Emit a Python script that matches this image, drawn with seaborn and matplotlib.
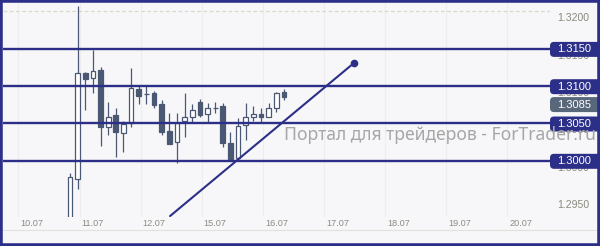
import numpy as np
import pandas as pd
import matplotlib
matplotlib.use("Agg")
import matplotlib.pyplot as plt
import matplotlib.transforms as mtransforms
from matplotlib.patches import Rectangle, FancyBboxPatch
from matplotlib.lines import Line2D
import seaborn as sns

# ---------------- data ----------------
opens  = [1.2910, 1.29752, 1.31173, 1.31106, 1.31213, 1.30449, 1.30610, 1.30369, 1.30503, 1.30958,
          1.30891, 1.30905, 1.30757, 1.30395, 1.30248, 1.30529, 1.30583, 1.30784, 1.30623, 1.30710,
          1.30731, 1.30235, 1.30034, 1.30476, 1.30583, 1.30623, 1.30583, 1.30704, 1.30918]
highs  = [1.29832, 1.32071, 1.31180, 1.31481, 1.31253, 1.30784, 1.30704, 1.30529, 1.31240, 1.30999,
          1.30999, 1.30932, 1.30811, 1.30637, 1.30637, 1.30905, 1.30757, 1.30824, 1.30771, 1.30784,
          1.30771, 1.30382, 1.30570, 1.30771, 1.30731, 1.30704, 1.30771, 1.30918, 1.30958]
lows   = [1.2905, 1.29618, 1.30677, 1.30905, 1.30194, 1.30342, 1.30047, 1.30114, 1.30449, 1.30757,
          1.30757, 1.30704, 1.30342, 1.30221, 1.29966, 1.30315, 1.30516, 1.30583, 1.30503, 1.30637,
          1.30181, 1.30007, 1.30007, 1.30275, 1.30529, 1.30516, 1.30583, 1.30650, 1.30811]
closes = [1.29779, 1.31173, 1.31093, 1.31200, 1.30449, 1.30583, 1.30382, 1.30489, 1.30972, 1.30865,
          1.30885, 1.30744, 1.30382, 1.30221, 1.30503, 1.30583, 1.30677, 1.30610, 1.30704, 1.30700,
          1.30235, 1.30020, 1.30462, 1.30583, 1.30623, 1.30583, 1.30704, 1.30905, 1.30851]

levels = [1.3150, 1.3100, 1.3050, 1.3000]
level_labels = ["1.3150", "1.3100", "1.3050", "1.3000"]
price_ticks = [1.3200, 1.3150, 1.3100, 1.3050, 1.3000, 1.2950]
price_tick_labels = ["1.3200", "1.3150", "1.3100", "1.3050", "1.3000", "1.2950"]
current_price = 1.3085
current_label = "1.3085"

day_labels = ["10.07", "11.07", "12.07", "15.07", "16.07", "17.07", "18.07", "19.07", "20.07"]
day_start = [-6.75, 1.25, 9.25, 17.25, 25.25, 33.25, 41.25, 49.25, 57.25]

trend_x = [13.1, 37.17]
trend_y = [1.29256, 1.31307]

watermark = "Портал для трейдеров - ForTrader.ru"

# ---------------- style ----------------
sns.set_theme(style="white")
plt.rcParams["font.family"] = ["Liberation Sans", "DejaVu Sans"]

NAVY = "#2b2f88"
CANDLE = "#4a5874"
BG = "#f7f7f9"

W, H = 600, 246
fig = plt.figure(figsize=(6.0, 2.46), dpi=100, facecolor=BG)
ax = fig.add_axes([3 / W, (H - 217) / H, (550 - 3) / W, (217 - 3) / H])
ax.set_facecolor(BG)
for s in ax.spines.values():
    s.set_visible(False)
ax.set_xlim(-8.77, 62.83)
ax.set_ylim(1.29243, 1.32111)
ax.set_xticks([])
ax.set_yticks([])

# vertical day grid
ax.vlines(day_start, 1.2924, 1.3212, colors="#ededed", linewidth=0.8, zorder=0)
# dashed top grid at 1.3200
ax.axhline(1.3200, color="#d3dccb", linewidth=0.9, linestyle=(0, (3, 2)), zorder=0.5)

# candles
df = pd.DataFrame({"i": np.arange(len(opens)), "open": opens, "high": highs, "low": lows, "close": closes})
bull = df["close"] >= df["open"]
ax.vlines(df["i"], df["low"], df["high"], colors=CANDLE, linewidth=0.9, zorder=3)
body_lo = df[["open", "close"]].min(axis=1)
body_hi = df[["open", "close"]].max(axis=1)
height = (body_hi - body_lo).clip(lower=0.00008)
ax.bar(df["i"][bull], height[bull], bottom=body_lo[bull], width=0.62,
       facecolor="white", edgecolor=CANDLE, linewidth=0.9, zorder=4)
ax.bar(df["i"][~bull], height[~bull], bottom=body_lo[~bull], width=0.62,
       facecolor=CANDLE, edgecolor=CANDLE, linewidth=0.9, zorder=4)

# levels
for lv in levels:
    ax.axhline(lv, color=NAVY, linewidth=1.7, zorder=5)

# trend line
sns.lineplot(x=trend_x, y=trend_y, ax=ax, color=NAVY, linewidth=1.5, zorder=6)
ax.plot([trend_x[1]], [trend_y[1]], "o", color=NAVY, markersize=4.5, zorder=7)

# x labels
xoff = mtransforms.ScaledTranslation(2 / 100, -6.5 / 100, fig.dpi_scale_trans)
xtr = mtransforms.blended_transform_factory(ax.transData, ax.transAxes) + xoff
for d, lab in zip(day_start, day_labels):
    ax.text(d, 0, lab, transform=xtr, ha="left", va="center", fontsize=6.6,
            color="#8c8c84", clip_on=False)

# right price scale labels
ytr = mtransforms.blended_transform_factory(fig.transFigure, ax.transData) + \
    mtransforms.ScaledTranslation(0, -7 / 100, fig.dpi_scale_trans)
for v, lab in zip(price_ticks, price_tick_labels):
    ax.text(573 / W, v, lab, transform=ytr, ha="center", va="center", fontsize=7.6,
            color="#8a8a7e", clip_on=False, zorder=8)

def price_box(value, text, color, dy_px=0.0):
    fig.canvas.draw()
    yd = ax.transData.transform((0, value))[1] / fig.dpi + dy_px / 100
    box = FancyBboxPatch((550 / 100, yd - 0.075), 0.52, 0.15,
                         boxstyle="round,pad=0,rounding_size=0.04",
                         transform=fig.dpi_scale_trans, facecolor=color,
                         edgecolor="none", zorder=9, clip_on=False)
    fig.add_artist(box)
    fig.text(574 / W, yd / 2.46, text, ha="center", va="center", fontsize=8,
             color="white", zorder=10)

for v, lab in zip(levels, level_labels):
    price_box(v, lab, NAVY, dy_px=-0.8)
price_box(current_price, current_label, "#586779", dy_px=-7.5)

# watermark (drawn over the price boxes, as in the reference)
fig.text(284 / W, 1 - 140 / H, watermark, ha="left", va="baseline",
         fontsize=12.6, color="#a6a6a6", family=["Noto Sans", "DejaVu Sans"], zorder=11)

# bottom separator line
fig.add_artist(Line2D([3 / W, 1], [1 - 230 / H] * 2, transform=fig.transFigure,
                      color="#e2e2dc", linewidth=0.8))

# outer border
fig.add_artist(Rectangle((0, 0), 1, 1, transform=fig.transFigure, fill=False,
                         edgecolor=NAVY, linewidth=4.0, zorder=20))

fig.savefig("out.png", dpi=100, facecolor=BG)
